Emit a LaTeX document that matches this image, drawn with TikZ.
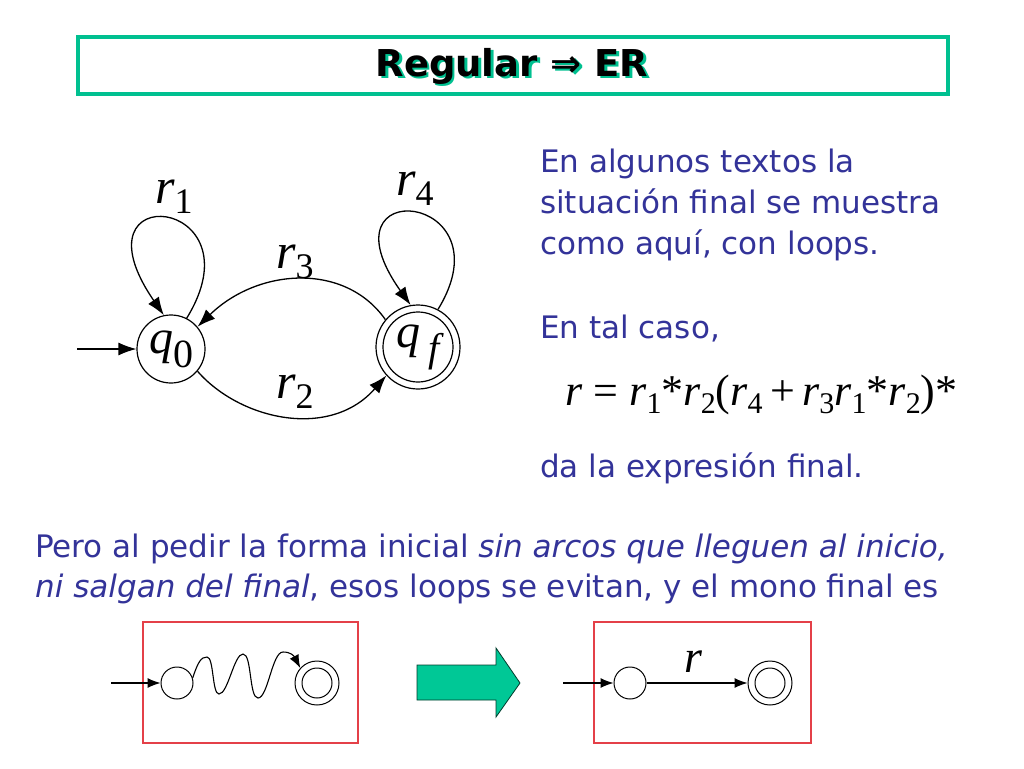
\documentclass[tikz,border=0pt]{standalone}
\usepackage{fontspec}
\setmainfont{DejaVu Sans}[ItalicFont={DejaVu Sans Oblique},BoldFont={DejaVu Sans Bold}]
\newfontfamily\tms{Liberation Serif}
\usetikzlibrary{arrows.meta}
\definecolor{txtblue}{RGB}{51,51,153}
\definecolor{tealc}{RGB}{0,192,144}
\definecolor{greenarr}{RGB}{0,200,150}
\definecolor{redbox}{RGB}{228,64,72}
\newcommand\rl[1]{{\tms\fontsize{50}{50}\selectfont\itshape r}\raisebox{-10pt}{\tms\fontsize{36}{36}\selectfont #1}}
\newcommand\fsub[1]{\raisebox{-8pt}{\tms\fontsize{30}{30}\selectfont #1}}
\newcommand\ri{\textit{r}}
\tikzset{
  body/.style={anchor=base west, inner sep=0pt, text=txtblue, font=\fontsize{31}{41}\selectfont},
  lbl/.style={anchor=base west, inner sep=0pt},
  st/.style={circle, draw, line width=1.2pt, inner sep=0pt},
  arr/.style={line width=1.3pt, -{Latex[length=18pt,width=13pt]}},
  sarr/.style={line width=1.1pt, -{Latex[length=13pt,width=10pt]}},
  rbox/.style={draw=redbox, line width=1.2pt}
}
\begin{document}
\begin{tikzpicture}[x=1pt,y=-1pt]
\useasboundingbox (0,0) rectangle (1024,768);
\fill[white] (0,0) rectangle (1024,768);
% title
\node[draw=tealc, line width=4pt, minimum width=870pt, minimum height=57pt, fill=white] (title) at (513,65.5) {};
\node[text=tealc, font=\fontsize{37}{37}\selectfont\bfseries] (titleshadow) at (514.5,68.5) {Regular ⇒ ER};
\node[text=black, font=\fontsize{37}{37}\selectfont\bfseries] (titletext) at (512,66) {Regular ⇒ ER};
% automaton
\node[st, minimum size=68pt, font=\tms\fontsize{48}{48}\selectfont] (q0) at (171,349) {\textit{q}\raisebox{-14pt}{\fontsize{40}{40}\selectfont 0}};
\node[st, minimum size=84pt] (qf) at (418,347) {};
\node[st, minimum size=70pt, font=\tms\fontsize{48}{48}\selectfont] (qfi) at (418,347) {\textit{q}\,\raisebox{-14pt}{\fontsize{40}{40}\selectfont\itshape f}};
\coordinate (s0) at (77,349);
\draw[arr] (s0) -- (q0.west);
\draw[arr] (q0.63) .. controls (262,196) and (68,176) .. (q0.102);
\draw[arr] (qf.62) .. controls (510,192) and (316,172) .. (qf.100);
\draw[arr] (qf.140) .. controls (345,262) and (258,268) .. (q0.40);
\draw[arr] (q0.-40) .. controls (240,420) and (330,440) .. (qf.222);
\node[lbl] (lr1) at (155,203) {\rl{1}};
\node[lbl] (lr4) at (396,195) {\rl{4}};
\node[lbl] (lr3) at (276,268) {\rl{3}};
\node[lbl] (lr2) at (276,398) {\rl{2}};
% right text
\node[body] (t1) at (540,172) {En algunos textos la};
\node[body] (t2) at (540,213) {situación final se muestra};
\node[body] (t3) at (540,254) {como aquí, con loops.};
\node[body] (t4) at (540,338) {En tal caso,};
\node[body] (t5) at (540,477) {da la expresión final.};
\node[lbl, font=\tms\fontsize{44}{44}\selectfont] (formula) at (565,405) {\ri\ = \ri\fsub{1}*\ri\fsub{2}(\ri\fsub{4}\,+\,\ri\fsub{3}\ri\fsub{1}*\ri\fsub{2})*};
% bottom text
\node[body] (b1) at (35,557) {Pero al pedir la forma inicial \textit{sin arcos que lleguen al inicio,}};
\node[body] (b2) at (35,597) {\textit{ni salgan del final}, esos loops se evitan, y el mono final es};
% left small automaton
\node[rbox, minimum width=215pt, minimum height=121pt, inner sep=0pt] (boxL) at (250.5,682.5) {};
\node[st, line width=1pt, minimum size=32pt] (a1) at (177,683) {};
\node[st, line width=1pt, minimum size=44pt] (fL) at (317,683) {};
\node[st, line width=1pt, minimum size=30pt] (fLi) at (317,683) {};
\coordinate (sL) at (111,683);
\draw[sarr] (sL) -- (a1.west);
\draw[sarr] (a1.18) .. controls (198,662) and (201,657) .. (207,657)
  .. controls (214,657) and (212,694) .. (219,694)
  .. controls (228,694) and (234,654) .. (243,654)
  .. controls (252,654) and (249,698) .. (258,698)
  .. controls (268,698) and (272,652) .. (283,652)
  .. controls (291,652) and (294,656) .. (fL.138);
% green arrow
\draw[fill=greenarr, draw=black!70!greenarr, line width=0.8pt] (417,665) -- (496,665) -- (496,648) -- (520,683) -- (496,717) -- (496,700) -- (417,700) -- cycle;
% right small automaton
\node[rbox, minimum width=217pt, minimum height=121pt, inner sep=0pt] (boxR) at (702.5,682.5) {};
\node[st, line width=1pt, minimum size=32pt] (b1c) at (630,683) {};
\node[st, line width=1pt, minimum size=44pt] (fR) at (770,683) {};
\node[st, line width=1pt, minimum size=30pt] (fRi) at (770,683) {};
\coordinate (sR) at (563,683);
\draw[sarr] (sR) -- (b1c.west);
\draw[sarr] (b1c.east) -- (fR.west);
\node[lbl, font=\tms\fontsize{46}{46}\selectfont\itshape] (rlab) at (684,672) {r};
\end{tikzpicture}
\end{document}
